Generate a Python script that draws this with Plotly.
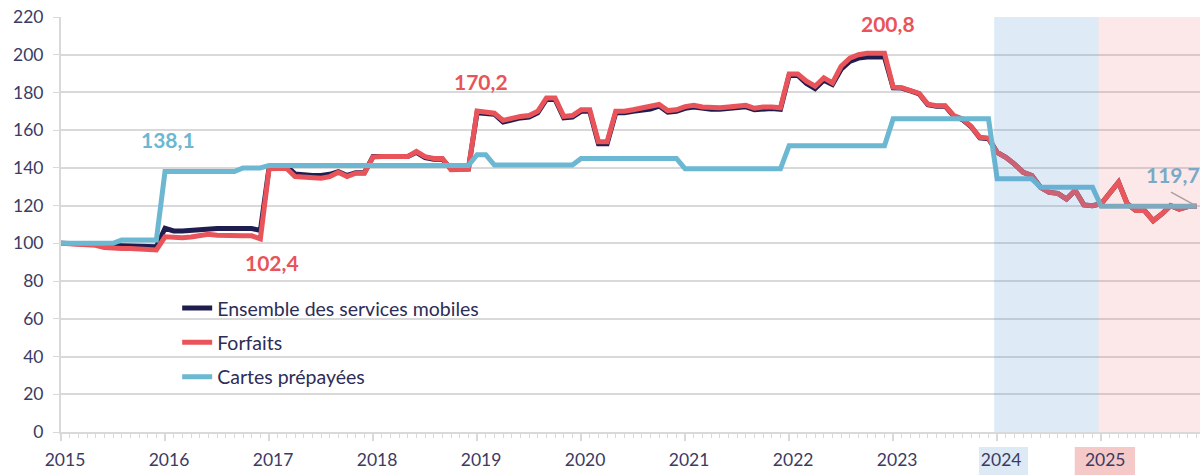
import plotly.graph_objects as go

# ---------------- data (monthly index, Jan 2015 = 0) ----------------
years = ["2015", "2016", "2017", "2018", "2019", "2020", "2021", "2022", "2023", "2024", "2025"]

ensemble = [
    100, 100, 99.8, 99.8, 99.5, 99, 98.7, 98.6, 98.6, 98.5, 98.3, 98.2,
    108, 106.6, 106.6, 107, 107.6, 107.9, 107.9, 107.9, 107.9, 107.9, 107.9, 106.8,
    140, 141, 141, 136.8, 136.3, 136, 136, 136.6, 138, 136, 137.5, 137.5,
    146, 146, 146, 146, 146, 148.3, 145.5, 144.6, 144.6, 139.3, 139.5, 139.5,
    169.3, 169, 168.5, 164.3, 165.5, 166.5, 167, 169.2, 176.3, 176.3, 166.5, 167,
    170, 170, 152.8, 152.8, 169.2, 169.2, 170, 170.8, 171.2, 172.8, 169.6, 170,
    171.6, 172.3, 171.4, 171.1, 171.1, 171.4, 172.2, 172.4, 170.9, 171.5, 171.5, 171.1,
    189, 189, 184.8, 182, 186.5, 184.2, 192.3, 196.5, 198.2, 198.8, 198.8, 198.8,
    182.5, 182.3, 180.8, 179.2, 173.5, 172.7, 172.7, 167.4, 165.6, 161.8, 155.9, 155.5,
    148.2, 145.6, 142, 137.7, 135.9, 129.7, 127, 126.5, 123.5, 128, 120.4, 120,
    121, 127, 132.4, 121, 117.4, 117.4, 112, 115.6, 120, 118.2, 119.5, 119.7,
]

forfaits = [
    100, 99.6, 99.5, 99.4, 99, 97.8, 97.3, 97.3, 97.3, 97.2, 96.8, 96.5,
    103.5, 103, 103, 103.4, 104.3, 104.8, 104.3, 104, 104, 104, 104, 102.4,
    139.5, 139.8, 139.8, 135.4, 134.9, 134.5, 134.5, 135.4, 137.7, 135.4, 137.2, 137.2,
    145.8, 146, 146, 146, 146, 148.7, 146, 145, 145, 139, 139.3, 139.3,
    170.2, 169.6, 169, 165.2, 166.4, 167.3, 167.8, 170, 177, 177, 167.3, 167.8,
    170.8, 170.8, 153.9, 153.9, 170, 170, 170.8, 171.7, 172.2, 173.6, 170.4, 170.8,
    172.5, 173.2, 172.3, 171.9, 171.9, 172.3, 173, 173.2, 171.6, 172.3, 172.3, 171.9,
    189.8, 189.8, 186, 183.3, 187.7, 185, 193.9, 198.2, 200, 200.8, 200.8, 200.8,
    182.8, 182.5, 181, 179.5, 173.8, 173, 173, 167.7, 165.9, 162, 156.2, 155.8,
    148.2, 145.6, 142, 137.7, 135.9, 129.7, 127, 126.5, 123.5, 128, 120.4, 120,
    121, 127, 132.4, 121, 117.4, 117.4, 112, 115.6, 120, 118.2, 119.5, 119.7,
]

prepayees = [
    100, 100, 100, 100, 100, 100, 100, 101.8, 101.8, 101.8, 101.8, 101.8,
    138.1, 138.1, 138.1, 138.1, 138.1, 138.1, 138.1, 138.1, 138.1, 140, 140, 140,
    141.3, 141.3, 141.3, 141.3, 141.3, 141.3, 141.3, 141.3, 141.3, 141.3, 141.3, 141.3,
    141.3, 141.3, 141.3, 141.3, 141.3, 141.3, 141.3, 141.3, 141.3, 141.3, 141.3, 141.3,
    147, 147, 141.5, 141.5, 141.5, 141.5, 141.5, 141.5, 141.5, 141.5, 141.5, 141.5,
    145, 145, 145, 145, 145, 145, 145, 145, 145, 145, 145, 145,
    139.5, 139.5, 139.5, 139.5, 139.5, 139.5, 139.5, 139.5, 139.5, 139.5, 139.5, 139.5,
    151.8, 151.8, 151.8, 151.8, 151.8, 151.8, 151.8, 151.8, 151.8, 151.8, 151.8, 151.8,
    166, 166, 166, 166, 166, 166, 166, 166, 166, 166, 166, 166,
    134.2, 134.2, 134.2, 134.2, 134.2, 129.7, 129.7, 129.7, 129.7, 129.7, 129.7, 129.7,
    119.7, 119.7, 119.7, 119.7, 119.7, 119.7, 119.7, 119.7, 119.7, 119.7, 119.7, 119.7,
]

months = list(range(len(forfaits)))
year_ticks = [12 * i for i in range(len(years))]

NAVY = "#1f1d4f"
RED = "#e9545a"
BLUE = "#6cb7d1"
TXT = "#3b3b63"
GRID = "#d9d9d9"
FONT = "Lato"

fig = go.Figure()
fig.add_trace(go.Scatter(x=months, y=ensemble, mode="lines", name="Ensemble des services mobiles",
                         line=dict(color=NAVY, width=5), legendgroup="a"))
fig.add_trace(go.Scatter(x=months, y=forfaits, mode="lines", name="Forfaits",
                         line=dict(color=RED, width=5), legendgroup="b"))
fig.add_trace(go.Scatter(x=months, y=prepayees, mode="lines", name="Cartes prépayées",
                         line=dict(color=BLUE, width=5), legendgroup="c"))

# shaded periods
fig.add_shape(type="rect", xref="x", yref="y", x0=107.65, x1=119.7, y0=0, y1=220,
              fillcolor="rgba(91,155,213,0.2)", line_width=0, layer="above")
fig.add_shape(type="rect", xref="x", yref="y", x0=119.7, x1=131.4, y0=0, y1=220,
              fillcolor="rgba(235,100,100,0.15)", line_width=0, layer="above")
# label backgrounds for 2024 / 2025
fig.add_shape(type="rect", xref="paper", yref="paper", x0=0.806, x1=0.849, y0=-0.104, y1=-0.036,
              fillcolor="#ddeaf6", line_width=0, layer="below")
fig.add_shape(type="rect", xref="paper", yref="paper", x0=0.890, x1=0.943, y0=-0.104, y1=-0.036,
              fillcolor="#f6c9c9", line_width=0, layer="below")

lab_font = dict(family=FONT, size=21, color=RED)
fig.add_annotation(x=12.3, y=154.8, text="<b>138,1</b>", showarrow=False,
                   font=dict(family=FONT, size=21, color=BLUE))
fig.add_annotation(x=24.3, y=90.1, text="<b>102,4</b>", showarrow=False, font=lab_font)
fig.add_annotation(x=48.4, y=186.0, text="<b>170,2</b>", showarrow=False, font=lab_font)
fig.add_annotation(x=95.4, y=216.8, text="<b>200,8</b>", showarrow=False, font=lab_font)
fig.add_annotation(x=128.3, y=136.5, text="<b>119,7</b>", showarrow=False,
                   font=dict(family=FONT, size=21, color="#7aa9c6"))
fig.add_annotation(x=131, y=119.7, text=" ", showarrow=True, arrowhead=0, arrowwidth=1.5,
                   arrowcolor="#a8a0a0", ax=-27, ay=-15, font=dict(size=1))

fig.update_layout(
    width=1204, height=475,
    margin=dict(l=61, r=4, t=17, b=43, autoexpand=False),
    paper_bgcolor="white", plot_bgcolor="white",
    font=dict(family=FONT, size=17.5, color=TXT),
    showlegend=True,
    legend=dict(x=0.102, xanchor="left", y=0.345, yanchor="top",
                bgcolor="rgba(0,0,0,0)", font=dict(family=FONT, size=19.5, color="#2d2d57"),
                tracegroupgap=6, itemwidth=30),
)
fig.update_xaxes(range=[0, 131.4], tickvals=year_ticks, ticktext=years, automargin=False,
                 showgrid=False, zeroline=False, showline=True, linecolor=GRID, linewidth=2,
                 ticks="outside", ticklen=7, tickcolor=GRID, tickwidth=1.5,
                 ticklabelshift=4, ticklabelstandoff=4,
                 minor=dict(dtick=1, tick0=0, ticks="outside", ticklen=4, tickcolor=GRID, tickwidth=1),
                 tickfont=dict(family=FONT, size=17.5, color=TXT))
fig.update_yaxes(range=[0, 220], dtick=20, showgrid=True, gridcolor=GRID, gridwidth=1.5, automargin=False,
                 zeroline=False, showline=True, linecolor=GRID, linewidth=2,
                 ticks="outside", ticklen=6, tickcolor=GRID, ticklabelstandoff=6,
                 tickfont=dict(family=FONT, size=17.5, color=TXT))

fig.write_html("out.html", config={"displayModeBar": False},
               post_script="document.body.style.margin='0px';document.body.style.overflow='hidden';")
